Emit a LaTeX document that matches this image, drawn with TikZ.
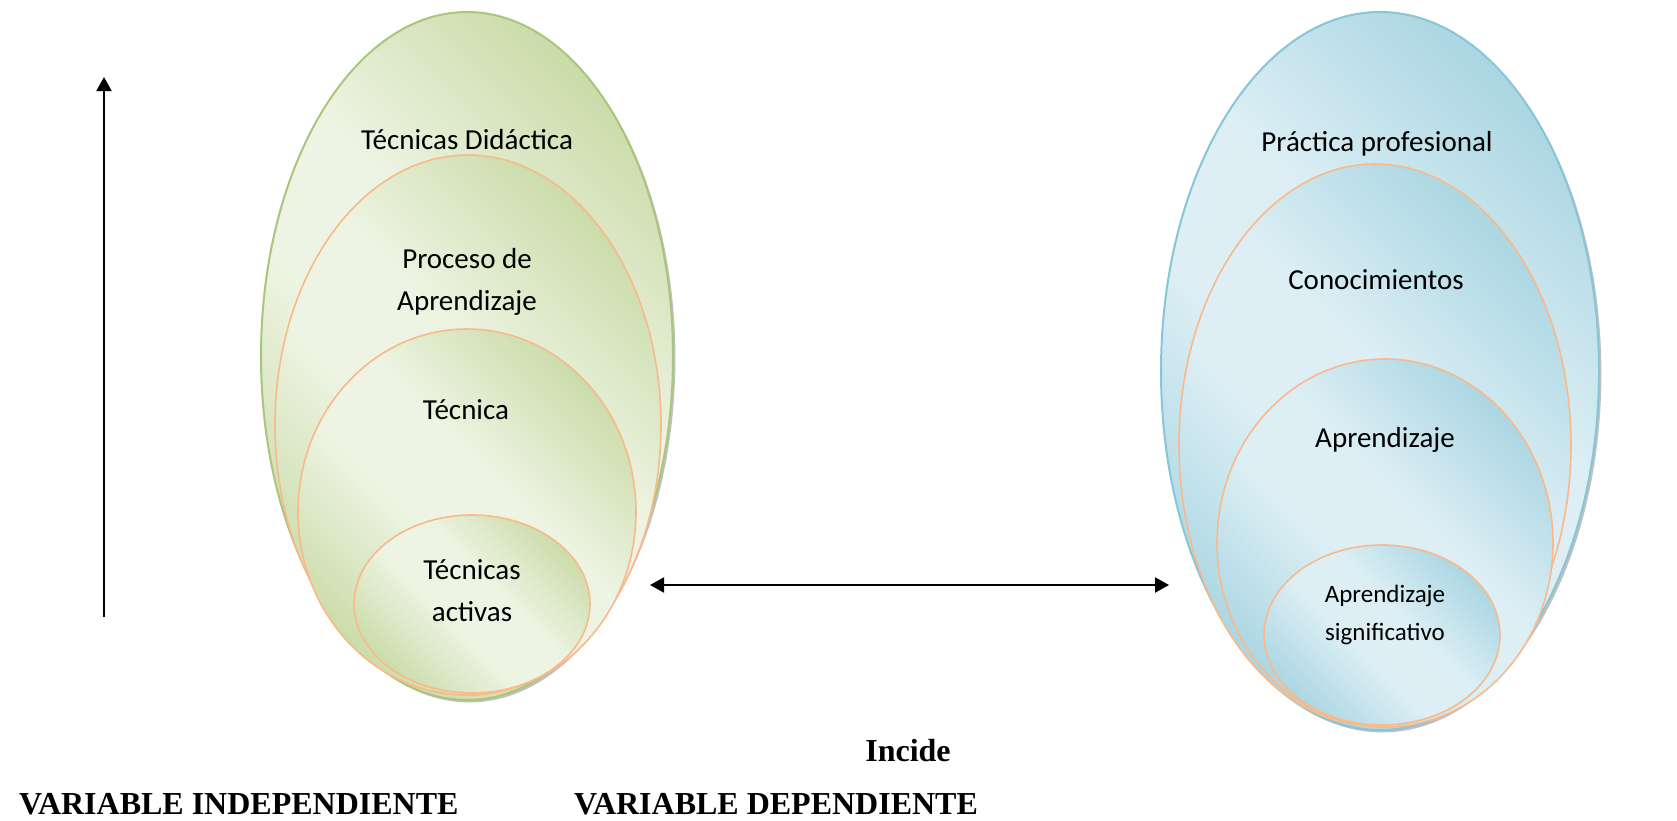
\documentclass[tikz,border=0pt]{standalone}
\usepackage{xcolor}
\usepackage{fontspec}
\setmainfont{Liberation Serif}
\newfontfamily\calibri{Carlito}
\usepackage{tikz}
\usetikzlibrary{arrows.meta,shapes.geometric,shadows}

\definecolor{gDark}{HTML}{C6D9A2}
\definecolor{gLight}{HTML}{EEF4E3}
\definecolor{gLine}{HTML}{A9C67C}
\definecolor{bDark}{HTML}{A4D3E0}
\definecolor{bLight}{HTML}{DDEFF5}
\definecolor{bLine}{HTML}{86C6D8}
\definecolor{oLine}{HTML}{F9B98A}

\pgfdeclarehorizontalshading{greenband}{100bp}{color(0bp)=(gDark); color(22bp)=(gDark); color(44bp)=(gLight); color(56bp)=(gLight); color(78bp)=(gDark); color(100bp)=(gDark)}
\pgfdeclarehorizontalshading{blueband}{100bp}{color(0bp)=(bDark); color(22bp)=(bDark); color(44bp)=(bLight); color(56bp)=(bLight); color(78bp)=(bDark); color(100bp)=(bDark)}

\begin{document}
\begin{tikzpicture}[x=0.5pt,y=-0.5pt,>={Triangle[length=7pt,width=7.5pt]}]
\tikzstyle{every node} = [inner sep=0pt, outer sep=0pt]
\tikzstyle{oval} = [ellipse, shade, shading angle=45]
\tikzstyle{outerG} = [oval, shading=greenband, draw=gLine, line width=1pt,
	drop shadow={shadow xshift=1.2pt, shadow yshift=-1.2pt, opacity=0.45, fill=black!55}]
\tikzstyle{outerB} = [oval, shading=blueband, draw=bLine, line width=1pt,
	drop shadow={shadow xshift=1.2pt, shadow yshift=-1.2pt, opacity=0.45, fill=black!55}]
\tikzstyle{innerG} = [oval, shading=greenband, draw=oLine, line width=0.8pt]
\tikzstyle{innerB} = [oval, shading=blueband, draw=oLine, line width=0.8pt]
\tikzstyle{lbl} = [font=\calibri\fontsize{14.5}{21}\selectfont, align=center]
\tikzstyle{small} = [font=\calibri\fontsize{12.5}{19}\selectfont, align=center]
\tikzstyle{bold} = [font=\fontsize{16}{19}\selectfont\bfseries]

\useasboundingbox (0,0) rectangle (1677,820);

% independent variable
\node [outerG, minimum width=206pt, minimum height=344pt] (LO) at (467,356) {};
\node [innerG, minimum width=193pt, minimum height=270pt] (L1) at (468,425) {};
\node [innerG, minimum width=169pt, minimum height=183pt] (L2) at (467,512) {};
\node [innerG, minimum width=118pt, minimum height=89pt] (L3) at (472,604) {};

\node [lbl] (didac) at (467,140) {Técnicas Didáctica};
\node [lbl] (proceso) at (467,282) {Proceso de\\Aprendizaje};
\node [lbl] (tecnica) at (466,410) {Técnica};
\node [lbl] (activas) at (472,591) {Técnicas\\activas};

% dependent variable
\node [outerB, minimum width=219pt, minimum height=359pt] (RO) at (1380,371) {};
\node [innerB, minimum width=196pt, minimum height=281pt] (R1) at (1375,445) {};
\node [innerB, minimum width=168pt, minimum height=184pt] (R2) at (1385,543) {};
\node [innerB, minimum width=118pt, minimum height=90pt] (R3) at (1382,635) {};

\node [lbl] (practica) at (1377,144) {Práctica profesional};
\node [lbl] (conoc) at (1376,280) {Conocimientos};
\node [lbl] (aprend) at (1385,440) {Aprendizaje};
\node [small] (signif) at (1385,615) {Aprendizaje\\significativo};

% arrows
\coordinate (upS) at (104,617);
\coordinate (upE) at (104,77);
\draw [->, line width=1pt] (upS) -- (upE);
\coordinate (midL) at (650,585);
\coordinate (midR) at (1169,585);
\draw [<->, line width=1pt] (midL) -- (midR);

% captions
\node [bold] (incide) at (908,751) {Incide};
\node [bold, anchor=west] (vind) at (19,804) {VARIABLE INDEPENDIENTE};
\node [bold, anchor=west] (vdep) at (574,804) {VARIABLE DEPENDIENTE};
\end{tikzpicture}
\end{document}
